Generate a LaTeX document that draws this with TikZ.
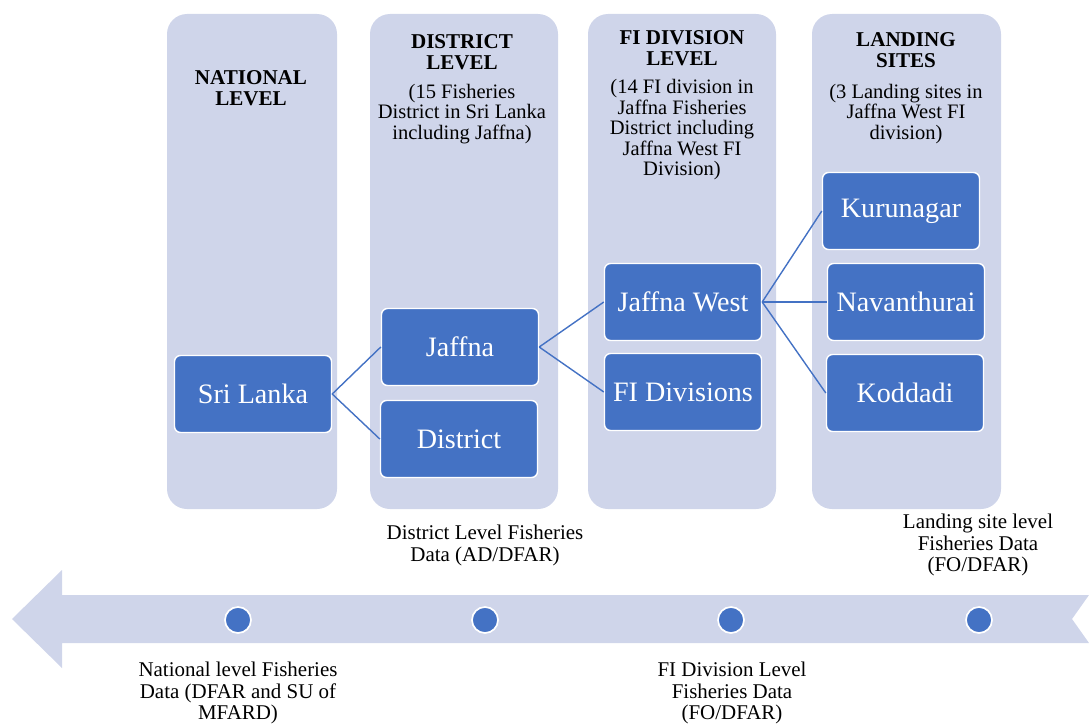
\documentclass[tikz,border=0pt]{standalone}
\usepackage{fontspec}
\setmainfont{Liberation Serif}
\usepackage{xcolor}
\usepackage{tikz}
\usetikzlibrary{arrows.meta,calc}
\definecolor{lightband}{RGB}{207,213,234}
\definecolor{boxblue}{RGB}{68,114,196}

\begin{document}
\begin{tikzpicture}[
  band/.style={fill=lightband, rounded corners=0.5cm},
  item/.style={draw=white, line width=1pt, fill=boxblue, rounded corners=0.15cm, minimum width=3.925cm, minimum height=1.925cm, text=white, font=\fontsize{20}{24}\selectfont},
  head/.style={align=center, font=\fontsize{15}{15.3}\selectfont\bfseries},
  note/.style={align=center, font=\fontsize{14.6}{14.6}\selectfont},
  datatext/.style={align=center, font=\fontsize{14.9}{15.3}\selectfont},
  link/.style={boxblue, line width=1pt},
  sitedot/.style={circle, fill=boxblue, draw=white, line width=1.2pt, minimum size=0.65cm, inner sep=0pt}
]
\useasboundingbox (0,0) rectangle (27.225,-18.1);
\fill[band] (4.175,-0.35) rectangle (8.425,-12.725);
\fill[band] (9.25,-0.35) rectangle (13.95,-12.725);
\fill[band] (14.7,-0.35) rectangle (19.4,-12.725);
\fill[band] (20.3,-0.35) rectangle (25.025,-12.725);
\node[head] (nationalhead) at (6.275,-2.2) {NATIONAL\\LEVEL};
\node[head] (districthead) at (11.55,-1.31) {DISTRICT\\LEVEL};
\node[note] (districtnote) at (11.55,-2.85) {(15 Fisheries\\District in Sri Lanka\\including Jaffna)};
\node[head] (divisionhead) at (17.05,-1.2) {FI DIVISION\\LEVEL};
\node[note] (divisionnote) at (17.05,-3.25) {(14 FI division in\\Jaffna Fisheries\\District including\\Jaffna West FI\\Division)};
\node[head] (landinghead) at (22.65,-1.25) {LANDING\\SITES};
\node[note] (landingnote) at (22.65,-2.85) {(3 Landing sites in\\Jaffna West FI\\division)};
\node[item] (srilanka) at (6.325,-9.85) {Sri Lanka};
\node[item] (jaffna) at (11.5,-8.675) {Jaffna};
\node[item] (district) at (11.475,-10.975) {District};
\node[item] (jaffnawest) at (17.075,-7.55) {Jaffna West};
\node[item] (fidivisions) at (17.075,-9.8) {FI Divisions};
\node[item] (kurunagar) at (22.525,-5.275) {Kurunagar};
\node[item] (navanthurai) at (22.65,-7.55) {Navanthurai};
\node[item] (koddadi) at (22.625,-9.825) {Koddadi};
\draw[link] (srilanka.east) -- (jaffna.west);
\draw[link] (srilanka.east) -- (district.west);
\draw[link] (jaffna.east) -- (jaffnawest.west);
\draw[link] (jaffna.east) -- (fidivisions.west);
\draw[link] (jaffnawest.east) -- (kurunagar.west);
\draw[link] (jaffnawest.east) -- (navanthurai.west);
\draw[link] (jaffnawest.east) -- (koddadi.west);
\fill[lightband] (0.3,-15.475) -- (1.55,-14.25) -- (1.55,-14.875) -- (27.225,-14.875) -- (26.8,-15.475) -- (27.225,-16.075) -- (1.55,-16.075) -- (1.55,-16.7) -- cycle;
\node[sitedot] (dot1) at (5.95,-15.5) {};
\node[sitedot] (dot2) at (12.125,-15.5) {};
\node[sitedot] (dot3) at (18.275,-15.5) {};
\node[sitedot] (dot4) at (24.475,-15.5) {};
\node[datatext] (districtdata) at (12.125,-13.64) {District Level Fisheries\\Data (AD/DFAR)};
\node[datatext] (landingdata) at (24.45,-13.625) {Landing site level\\Fisheries Data\\(FO/DFAR)};
\node[datatext] (nationaldata) at (5.95,-17.325) {National level Fisheries\\Data (DFAR and SU of\\MFARD)};
\node[datatext] (divisiondata) at (18.3,-17.325) {FI Division Level\\Fisheries Data\\(FO/DFAR)};
\end{tikzpicture}
\end{document}
